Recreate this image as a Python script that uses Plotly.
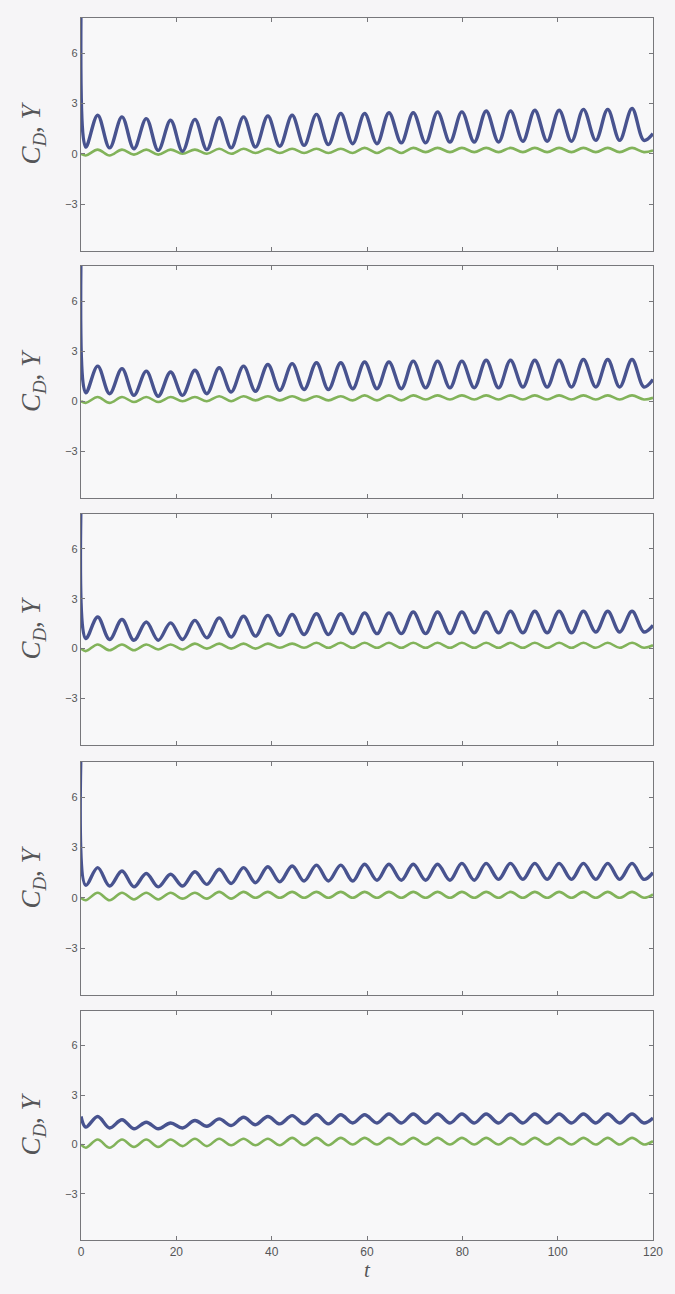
import plotly.graph_objects as go
from plotly.subplots import make_subplots

# Times of successive extrema (start, trough, peak, trough, ..., end)
t_ext = [0.0, 1.0, 3.5, 6.0, 8.6, 11.1, 13.7, 16.2, 18.8, 21.3, 23.9, 26.4, 29.0,
         31.5, 34.1, 36.6, 39.2, 41.7, 44.3, 46.8, 49.4, 51.9, 54.5, 57.0, 59.5,
         62.1, 64.6, 67.2, 69.7, 72.3, 74.8, 77.4, 79.9, 82.5, 85.0, 87.6, 90.1,
         92.7, 95.2, 97.8, 100.3, 102.9, 105.4, 108.0, 110.5, 113.0, 115.6, 118.1, 120.0]

# Drag coefficient C_D at those instants, one list per run
cd_1 = [9.0, 0.4, 2.3, 0.35, 2.2, 0.3, 2.1, 0.2, 2.0, 0.15, 2.05, 0.25, 2.15, 0.35, 2.2,
        0.4, 2.25, 0.45, 2.3, 0.5, 2.35, 0.55, 2.4, 0.6, 2.4, 0.6, 2.45, 0.65, 2.45,
        0.65, 2.5, 0.7, 2.5, 0.7, 2.55, 0.7, 2.55, 0.75, 2.6, 0.75, 2.6, 0.75, 2.65,
        0.8, 2.65, 0.8, 2.7, 0.8, 1.2]
cd_2 = [9.0, 0.5, 2.1, 0.45, 1.95, 0.35, 1.8, 0.3, 1.75, 0.35, 1.85, 0.45, 2.0, 0.55, 2.1,
        0.6, 2.2, 0.65, 2.25, 0.7, 2.3, 0.7, 2.3, 0.75, 2.35, 0.75, 2.35, 0.75, 2.4,
        0.8, 2.4, 0.8, 2.4, 0.8, 2.45, 0.8, 2.45, 0.85, 2.45, 0.85, 2.45, 0.85, 2.5,
        0.85, 2.5, 0.85, 2.5, 0.85, 1.3]
cd_3 = [9.0, 0.6, 1.9, 0.55, 1.75, 0.5, 1.6, 0.5, 1.55, 0.55, 1.7, 0.65, 1.85, 0.7, 1.95,
        0.75, 2.0, 0.8, 2.05, 0.85, 2.1, 0.85, 2.1, 0.9, 2.15, 0.9, 2.15, 0.9, 2.2,
        0.9, 2.2, 0.9, 2.2, 0.95, 2.2, 0.95, 2.25, 0.95, 2.25, 0.95, 2.25, 0.95, 2.25,
        1.0, 2.25, 1.0, 2.25, 1.0, 1.4]
cd_4 = [9.0, 0.75, 1.8, 0.7, 1.6, 0.65, 1.45, 0.65, 1.4, 0.7, 1.55, 0.8, 1.7, 0.85, 1.8,
        0.9, 1.85, 0.95, 1.9, 1.0, 1.95, 1.0, 1.95, 1.0, 2.0, 1.05, 2.0, 1.05, 2.0,
        1.05, 2.0, 1.05, 2.05, 1.05, 2.05, 1.1, 2.05, 1.1, 2.05, 1.1, 2.05, 1.1, 2.05,
        1.1, 2.05, 1.1, 2.05, 1.1, 1.5]
cd_5 = [1.7, 1.05, 1.7, 1.0, 1.5, 0.95, 1.35, 0.95, 1.3, 1.0, 1.45, 1.1, 1.55, 1.15, 1.65,
        1.2, 1.7, 1.25, 1.75, 1.25, 1.8, 1.25, 1.8, 1.3, 1.8, 1.3, 1.85, 1.3, 1.85,
        1.3, 1.85, 1.3, 1.85, 1.3, 1.85, 1.3, 1.85, 1.3, 1.85, 1.3, 1.85, 1.3, 1.85,
        1.3, 1.85, 1.3, 1.85, 1.3, 1.6]

# Transverse displacement Y at the same instants
y_1 = [0.0, -0.1, 0.25, -0.1, 0.25, -0.05, 0.25, -0.05, 0.25, 0.0, 0.25, 0.0, 0.3, 0.0, 0.3,
       0.05, 0.3, 0.05, 0.3, 0.05, 0.3, 0.05, 0.3, 0.05, 0.35, 0.05, 0.35, 0.05, 0.35,
       0.1, 0.35, 0.1, 0.35, 0.1, 0.35, 0.1, 0.35, 0.1, 0.35, 0.1, 0.35, 0.1, 0.35,
       0.1, 0.35, 0.1, 0.35, 0.1, 0.2]
y_2 = [0.0, -0.1, 0.25, -0.1, 0.25, -0.05, 0.25, -0.05, 0.25, 0.0, 0.25, 0.0, 0.3, 0.0, 0.3,
       0.05, 0.3, 0.05, 0.3, 0.05, 0.3, 0.05, 0.3, 0.05, 0.35, 0.05, 0.35, 0.05, 0.35,
       0.1, 0.35, 0.1, 0.35, 0.1, 0.35, 0.1, 0.35, 0.1, 0.35, 0.1, 0.35, 0.1, 0.35,
       0.1, 0.35, 0.1, 0.35, 0.1, 0.2]
y_3 = [0.0, -0.15, 0.25, -0.1, 0.25, -0.1, 0.25, -0.05, 0.25, -0.05, 0.3, 0.0, 0.3, 0.0, 0.3,
       0.0, 0.3, 0.05, 0.3, 0.05, 0.35, 0.05, 0.35, 0.05, 0.35, 0.05, 0.35, 0.05, 0.35,
       0.05, 0.35, 0.05, 0.35, 0.05, 0.35, 0.05, 0.35, 0.05, 0.35, 0.05, 0.35, 0.05, 0.35,
       0.05, 0.35, 0.05, 0.35, 0.05, 0.2]
y_4 = [0.0, -0.15, 0.3, -0.15, 0.3, -0.1, 0.3, -0.1, 0.3, -0.05, 0.3, -0.05, 0.35, -0.05, 0.35,
       0.0, 0.35, 0.0, 0.35, 0.0, 0.35, 0.0, 0.35, 0.0, 0.35, 0.0, 0.35, 0.0, 0.35,
       0.0, 0.35, 0.0, 0.35, 0.0, 0.35, 0.0, 0.35, 0.0, 0.35, 0.0, 0.35, 0.0, 0.35,
       0.0, 0.35, 0.0, 0.35, 0.0, 0.2]
y_5 = [0.0, -0.2, 0.3, -0.2, 0.3, -0.15, 0.3, -0.15, 0.3, -0.1, 0.35, -0.1, 0.35, -0.05, 0.35,
       -0.05, 0.35, -0.05, 0.4, -0.05, 0.4, -0.05, 0.4, 0.0, 0.4, 0.0, 0.4, 0.0, 0.4,
       0.0, 0.4, 0.0, 0.4, 0.0, 0.4, 0.0, 0.4, 0.0, 0.4, 0.0, 0.4, 0.0, 0.4,
       0.0, 0.4, 0.0, 0.4, 0.0, 0.2]

cd_runs = [cd_1, cd_2, cd_3, cd_4, cd_5]
y_runs = [y_1, y_2, y_3, y_4, y_5]

x_ticks = [0, 20, 40, 60, 80, 100, 120]
y_ticks = [-3, 0, 3, 6]

W, H = 675, 1294
m_left, m_right, m_top, m_bottom = 81, 19, 18, 54
# pixel extents (top, bottom) of each panel
panel_px = [(18, 251), (266, 498), (514, 745), (762, 995), (1011, 1240)]

blue = "#48538f"
green = "#82b35a"
axis_col = "#77777b"
text_col = "#555558"

fig = make_subplots(rows=5, cols=1)
n = len(cd_runs)
for i in range(n):
    r = i + 1
    fig.add_trace(go.Scatter(x=t_ext, y=y_runs[i], mode="lines",
                             line=dict(color=green, width=2.6, shape="spline", smoothing=1.0),
                             showlegend=False), row=r, col=1)
    fig.add_trace(go.Scatter(x=t_ext, y=cd_runs[i], mode="lines",
                             line=dict(color=blue, width=3.4, shape="spline", smoothing=1.0),
                             showlegend=False), row=r, col=1)

plot_h = H - m_top - m_bottom
for i, (top, bot) in enumerate(panel_px):
    r = i + 1
    dom = [(H - m_bottom - bot) / plot_h, (H - m_bottom - top) / plot_h]
    fig.update_yaxes(domain=dom, row=r, col=1)
    fig.update_yaxes(range=[-5.8, 8.1], tickvals=y_ticks,
                     ticks="inside", ticklen=4, tickcolor=axis_col, tickwidth=1,
                     showline=True, linecolor=axis_col, linewidth=1.2, mirror="ticks",
                     showgrid=False, zeroline=False,
                     tickfont=dict(family="Liberation Sans, Arial", size=11, color=text_col),
                     title=dict(text="<i>C<sub>D</sub></i>, <i>Y</i>", standoff=16,
                                font=dict(family="Liberation Serif, DejaVu Serif", size=27,
                                          color=text_col)),
                     row=r, col=1)
    fig.update_xaxes(range=[0, 120], tickvals=x_ticks,
                     ticks="inside", ticklen=4, tickcolor=axis_col, tickwidth=1,
                     showline=True, linecolor=axis_col, linewidth=1.2, mirror="ticks",
                     showgrid=False, zeroline=False,
                     showticklabels=(r == n),
                     tickfont=dict(family="Liberation Sans, Arial", size=12, color=text_col),
                     row=r, col=1)

fig.update_xaxes(title=dict(text="<i>t</i>", standoff=2,
                            font=dict(family="Liberation Serif, DejaVu Serif", size=21,
                                      color=text_col)),
                 row=n, col=1)

fig.update_layout(width=W, height=H,
                  margin=dict(l=m_left, r=m_right, t=m_top, b=m_bottom),
                  paper_bgcolor="#f6f5f7", plot_bgcolor="#f8f8f9",
                  showlegend=False)

fig.write_html("out.html")
